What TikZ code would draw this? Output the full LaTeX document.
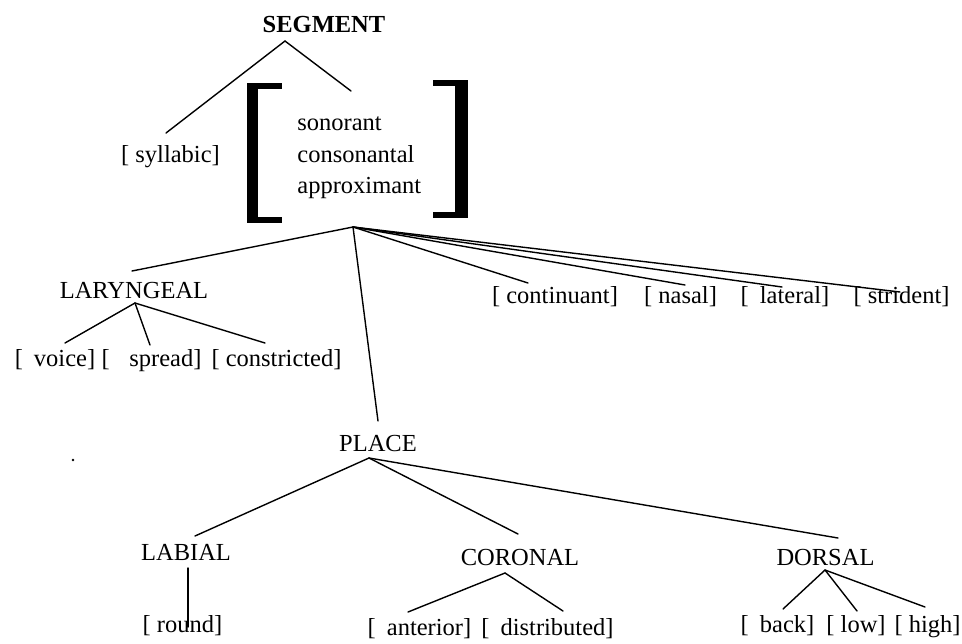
\documentclass[tikz,border=0pt]{standalone}
\usepackage{fontspec}
\setmainfont{Liberation Serif}
\begin{document}
\begin{tikzpicture}[x=0.5pt,y=-0.5pt,
  every node/.style={inner sep=0pt, anchor=base, font=\fontsize{12.25}{14}\selectfont},
  edge/.style={line width=0.7pt, line cap=round},
  brk/.style={fill=black, draw=none}]
\useasboundingbox (0,0) rectangle (962,643);

% ---------- nodes ----------
\node (seg) at (324,32) {\bfseries SEGMENT};
\node (syl) at (170.5,162) {[ syllabic]};
\node[anchor=base west] (son)  at (297,130) {sonorant};
\node[anchor=base west] (cons) at (297,162) {consonantal};
\node[anchor=base west] (appr) at (297,193) {approximant};

\node (lar) at (134,298) {LARYNGEAL};
\node (voi) at (55,366) {[\hspace{0.45em}voice]};
\node (spr) at (151.5,366) {[\hspace{0.8em}spread]};
\node (con) at (276.5,366) {[ constricted]};

\node (cnt) at (555,303) {[ continuant]};
\node (nas) at (680.5,303) {[ nasal]};
\node (lat) at (785,303) {[\hspace{0.45em}lateral]};
\node (str) at (901.5,303) {[ strident]};

\node (pla) at (378,451) {PLACE};
\node (lab) at (186,560) {LABIAL};
\node (cor) at (520,565) {CORONAL};
\node (dor) at (825.5,565) {DORSAL};

\node (rnd) at (182.5,632) {[ round]};
\node (ant) at (419.5,635) {[\hspace{0.45em}anterior]};
\node (dis) at (547.5,635) {[\hspace{0.45em}distributed]};
\node (bck) at (777.5,632) {[\hspace{0.45em}back]};
\node (low) at (856,632) {[ low]};
\node (hig) at (927.5,632) {[ high]};

% ---------- feature bracket ----------
\fill[brk] (247,83) rectangle (258,223);
\fill[brk] (247,83) rectangle (282,89);
\fill[brk] (247,217) rectangle (282,223);
\fill[brk] (455,80) rectangle (468,218);
\fill[brk] (433,80) rectangle (468,86);
\fill[brk] (433,212) rectangle (468,218);

% stray dot
\fill (73,460) circle (1.3);

% ---------- connection points ----------
\coordinate (segA) at (285,41);
\coordinate (sylT) at (166,133);
\coordinate (matT) at (351,91);
\coordinate (hub)  at (353,227);
\coordinate (larT) at (132,271);
\coordinate (plaT) at (378,421);
\coordinate (cntT) at (528,283);
\coordinate (nasT) at (685,285);
\coordinate (latT) at (782,287);
\coordinate (strT) at (900,292);
\coordinate (larA) at (135,303);
\coordinate (voiT) at (65,343);
\coordinate (sprT) at (150,345);
\coordinate (conT) at (265,343);
\coordinate (plaA) at (369,458);
\coordinate (labT) at (195,536);
\coordinate (corT) at (518,534);
\coordinate (dorT) at (838,538);
\coordinate (labA) at (188,568);
\coordinate (rndT) at (188,627);
\coordinate (corA) at (505,573);
\coordinate (antT) at (408,612);
\coordinate (disT) at (563,611);
\coordinate (dorA) at (825,570);
\coordinate (bckT) at (783,609);
\coordinate (lowT) at (857,611);
\coordinate (higT) at (925,607);

% ---------- connectors ----------
\draw[edge] (segA) -- (sylT);
\draw[edge] (segA) -- (matT);
\draw[edge] (hub) -- (larT);
\draw[edge] (hub) -- (plaT);
\draw[edge] (hub) -- (cntT);
\draw[edge] (hub) -- (nasT);
\draw[edge] (hub) -- (latT);
\draw[edge] (hub) -- (strT);
\draw[edge] (larA) -- (voiT);
\draw[edge] (larA) -- (sprT);
\draw[edge] (larA) -- (conT);
\draw[edge] (plaA) -- (labT);
\draw[edge] (plaA) -- (corT);
\draw[edge] (plaA) -- (dorT);
\draw[edge] (labA) -- (rndT);
\draw[edge] (corA) -- (antT);
\draw[edge] (corA) -- (disT);
\draw[edge] (dorA) -- (bckT);
\draw[edge] (dorA) -- (lowT);
\draw[edge] (dorA) -- (higT);
\end{tikzpicture}
\end{document}
